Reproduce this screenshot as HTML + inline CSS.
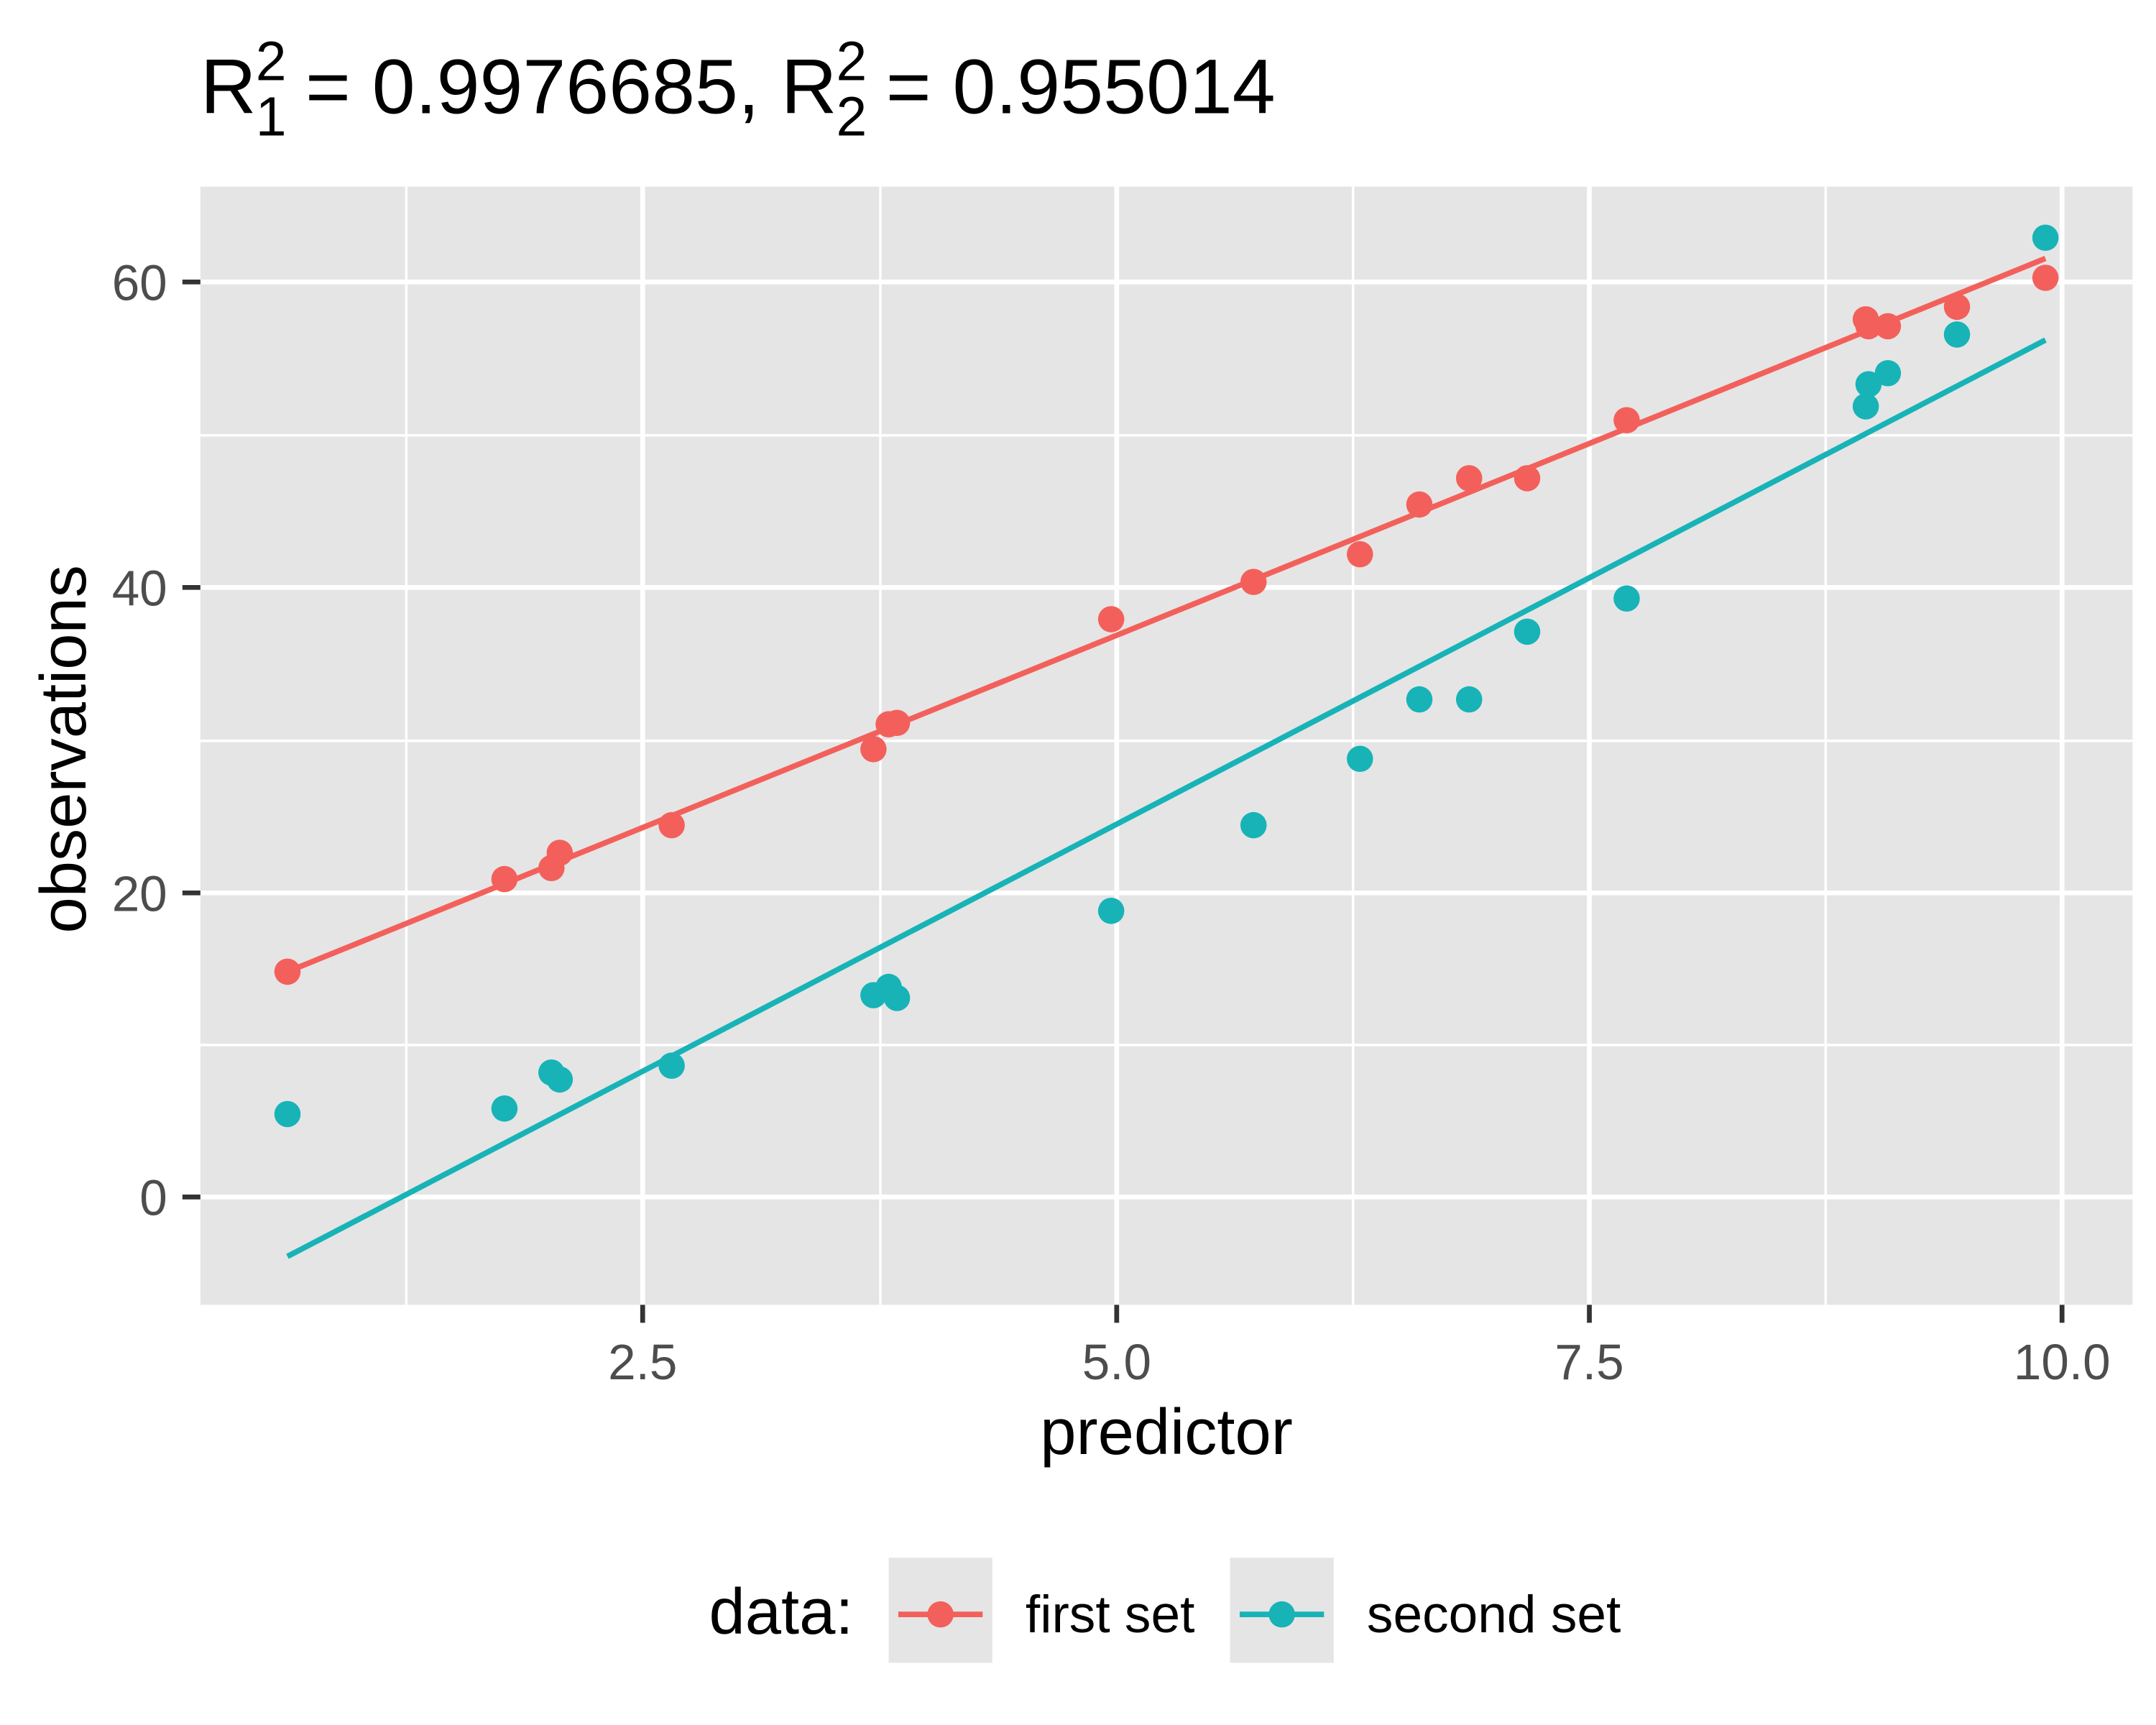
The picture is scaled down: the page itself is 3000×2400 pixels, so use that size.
<!DOCTYPE html>
<html><head><meta charset="utf-8"><style>html,body{margin:0;padding:0;background:#fff}svg{display:block}</style></head>
<body>
<svg width="3000" height="2400" viewBox="0 0 1560 1248" xmlns="http://www.w3.org/2000/svg" font-family="Liberation Sans, Arial, sans-serif">
<rect width="1560" height="1248" fill="#fff"/>
<g fill="#000">
<text x="145" y="82" font-size="56">R</text>
<text x="185" y="58" font-size="40">2</text>
<text x="185" y="98" font-size="40">1</text>
<text x="221" y="82" font-size="56" xml:space="preserve">= 0.9976685, R</text>
<text x="605" y="58" font-size="40">2</text>
<text x="605" y="98" font-size="40">2</text>
<text x="641" y="82" font-size="56" xml:space="preserve">= 0.955014</text>
</g>
<rect x="145" y="135" width="1398" height="809" fill="#e5e5e5"/>
<g stroke="#fff" stroke-width="1.8">
<line x1="145" x2="1543" y1="315" y2="315"/><line x1="145" x2="1543" y1="536" y2="536"/><line x1="145" x2="1543" y1="756" y2="756"/>
<line y1="135" y2="944" x1="294" x2="294"/><line y1="135" y2="944" x1="637" x2="637"/><line y1="135" y2="944" x1="979" x2="979"/><line y1="135" y2="944" x1="1321" x2="1321"/>
</g>
<g stroke="#fff" stroke-width="3.5">
<line x1="145" x2="1543" y1="204" y2="204"/><line x1="145" x2="1543" y1="425" y2="425"/><line x1="145" x2="1543" y1="646" y2="646"/><line x1="145" x2="1543" y1="866" y2="866"/>
<line y1="135" y2="944" x1="465" x2="465"/><line y1="135" y2="944" x1="808" x2="808"/><line y1="135" y2="944" x1="1150" x2="1150"/><line y1="135" y2="944" x1="1492" x2="1492"/>
</g>
<g stroke="#333" stroke-width="3.5">
<line x1="132" x2="145" y1="204" y2="204"/><line x1="132" x2="145" y1="425" y2="425"/><line x1="132" x2="145" y1="646" y2="646"/><line x1="132" x2="145" y1="866" y2="866"/>
<line y1="944" y2="957" x1="465" x2="465"/><line y1="944" y2="957" x1="808" x2="808"/><line y1="944" y2="957" x1="1150" x2="1150"/><line y1="944" y2="957" x1="1492" x2="1492"/>
</g>
<g font-size="36" fill="#4d4d4d" text-anchor="end">
<text x="121" y="217">60</text><text x="121" y="438">40</text><text x="121" y="659">20</text><text x="121" y="879">0</text>
</g>
<g font-size="36" fill="#4d4d4d" text-anchor="middle">
<text x="465" y="998">2.5</text><text x="808" y="998">5.0</text><text x="1150" y="998">7.5</text><text x="1492" y="998">10.0</text>
</g>
<text x="844" y="1052" font-size="47" text-anchor="middle">predictor</text>
<text transform="translate(62,542) rotate(-90)" font-size="47" text-anchor="middle">observations</text>
<line x1="208" y1="703" x2="1480" y2="187" stroke="#F3605B" stroke-width="4"/>
<line x1="208" y1="909" x2="1480" y2="246" stroke="#17B3B7" stroke-width="4"/>
<g fill="#F3605B">
<circle cx="208" cy="703" r="9.5"/><circle cx="365" cy="636" r="9.5"/><circle cx="399" cy="628" r="9.5"/><circle cx="405" cy="617" r="9.5"/><circle cx="486" cy="597" r="9.5"/><circle cx="632" cy="542" r="9.5"/><circle cx="643" cy="524" r="9.5"/><circle cx="649" cy="523" r="9.5"/><circle cx="804" cy="448" r="9.5"/><circle cx="907" cy="421" r="9.5"/><circle cx="984" cy="401" r="9.5"/><circle cx="1027" cy="365" r="9.5"/><circle cx="1063" cy="346" r="9.5"/><circle cx="1105" cy="346" r="9.5"/><circle cx="1177" cy="304" r="9.5"/><circle cx="1350" cy="231" r="9.5"/><circle cx="1352" cy="236" r="9.5"/><circle cx="1366" cy="236" r="9.5"/><circle cx="1416" cy="222" r="9.5"/><circle cx="1480" cy="201" r="9.5"/>
</g>
<g fill="#17B3B7">
<circle cx="208" cy="806" r="9.5"/><circle cx="365" cy="802" r="9.5"/><circle cx="399" cy="776" r="9.5"/><circle cx="405" cy="781" r="9.5"/><circle cx="486" cy="771" r="9.5"/><circle cx="632" cy="720" r="9.5"/><circle cx="643" cy="714" r="9.5"/><circle cx="649" cy="722" r="9.5"/><circle cx="804" cy="659" r="9.5"/><circle cx="907" cy="597" r="9.5"/><circle cx="984" cy="549" r="9.5"/><circle cx="1027" cy="506" r="9.5"/><circle cx="1063" cy="506" r="9.5"/><circle cx="1105" cy="457" r="9.5"/><circle cx="1177" cy="433" r="9.5"/><circle cx="1350" cy="294" r="9.5"/><circle cx="1352" cy="278" r="9.5"/><circle cx="1366" cy="270" r="9.5"/><circle cx="1416" cy="242" r="9.5"/><circle cx="1480" cy="172" r="9.5"/>
</g>
<text x="513" y="1182" font-size="47">data:</text>
<rect x="643" y="1127" width="75" height="76" fill="#e5e5e5"/>
<line x1="650" x2="711" y1="1168" y2="1168" stroke="#F3605B" stroke-width="4"/>
<circle cx="680.5" cy="1168" r="9.5" fill="#F3605B"/>
<text x="742" y="1181" font-size="38">first set</text>
<rect x="890" y="1127" width="75" height="76" fill="#e5e5e5"/>
<line x1="897" x2="958" y1="1168" y2="1168" stroke="#17B3B7" stroke-width="4"/>
<circle cx="927.5" cy="1168" r="9.5" fill="#17B3B7"/>
<text x="989" y="1181" font-size="38">second set</text>
</svg>
</body></html>
